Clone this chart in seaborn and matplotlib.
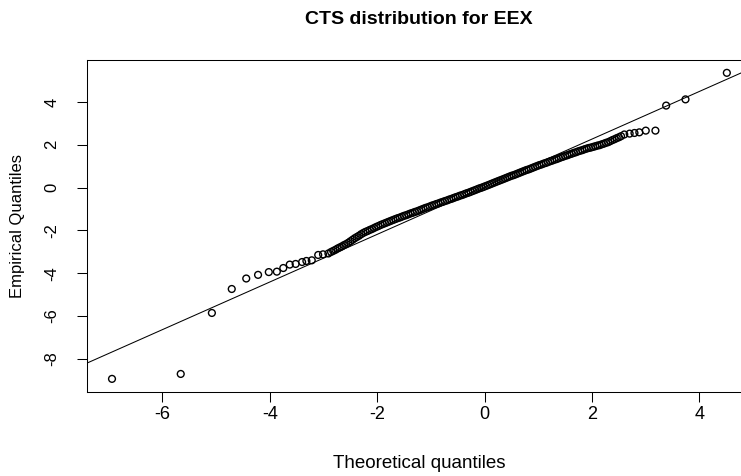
import matplotlib
matplotlib.use("Agg")
import matplotlib.pyplot as plt
import pandas as pd
import seaborn as sns

# ---- data ----
theoretical = [
    -6.94, -5.66, -5.08, -4.71, -4.44, -4.22, -4.02, -3.87, -3.75, -3.63,
    -3.52, -3.40, -3.32, -3.22, -3.10, -3.01, -2.91,
    -2.86, -2.82, -2.78, -2.74, -2.70, -2.66, -2.62, -2.58, -2.54, -2.50,
    -2.46, -2.42, -2.38, -2.34, -2.30, -2.26, -2.22, -2.18, -2.14, -2.10,
    -2.06, -2.02, -1.98, -1.94, -1.90, -1.86, -1.82, -1.78, -1.74, -1.70,
    -1.66, -1.62, -1.58, -1.54, -1.50, -1.46, -1.42, -1.38, -1.34, -1.30,
    -1.26, -1.22, -1.18, -1.14, -1.10, -1.06, -1.02, -0.98, -0.94, -0.90,
    -0.86, -0.82, -0.78, -0.74, -0.70, -0.66, -0.62, -0.58, -0.54, -0.50,
    -0.46, -0.42, -0.38, -0.34, -0.30, -0.26, -0.22, -0.18, -0.14, -0.10,
    -0.06, -0.02, 0.02, 0.06, 0.10, 0.14, 0.18, 0.22, 0.26, 0.30,
    0.34, 0.38, 0.42, 0.46, 0.50, 0.54, 0.58, 0.62, 0.66, 0.70,
    0.74, 0.78, 0.82, 0.86, 0.90, 0.94, 0.98, 1.02, 1.06, 1.10,
    1.14, 1.18, 1.22, 1.26, 1.30, 1.34, 1.38, 1.42, 1.46, 1.50,
    1.54, 1.58, 1.62, 1.66, 1.70, 1.74, 1.78, 1.82, 1.86, 1.90,
    1.94, 1.98, 2.02, 2.06, 2.10, 2.14, 2.18, 2.22, 2.26, 2.30,
    2.34, 2.38, 2.42, 2.46, 2.50, 2.54,
    2.60, 2.70, 2.79, 2.88, 3.00, 3.18, 3.38, 3.74, 4.51,
]
empirical = [
    -8.94, -8.71, -5.86, -4.74, -4.25, -4.08, -3.95, -3.93, -3.76, -3.60,
    -3.57, -3.48, -3.43, -3.40, -3.15, -3.12, -3.08,
    -3.01, -2.96, -2.91, -2.85, -2.80, -2.75, -2.69, -2.64, -2.58, -2.51,
    -2.44, -2.37, -2.31, -2.25, -2.18, -2.12, -2.07, -2.03, -1.98, -1.94,
    -1.89, -1.84, -1.80, -1.75, -1.71, -1.67, -1.63, -1.59, -1.55, -1.51,
    -1.47, -1.43, -1.40, -1.36, -1.32, -1.29, -1.25, -1.21, -1.18, -1.14,
    -1.11, -1.07, -1.03, -0.99, -0.95, -0.92, -0.88, -0.84, -0.81, -0.77,
    -0.74, -0.70, -0.67, -0.63, -0.60, -0.56, -0.53, -0.49, -0.45, -0.42,
    -0.38, -0.35, -0.31, -0.27, -0.24, -0.20, -0.16, -0.12, -0.08, -0.04,
    -0.01, 0.03, 0.07, 0.11, 0.15, 0.19, 0.23, 0.27, 0.31, 0.35,
    0.39, 0.43, 0.47, 0.51, 0.55, 0.58, 0.62, 0.66, 0.70, 0.74,
    0.78, 0.82, 0.85, 0.89, 0.93, 0.97, 1.01, 1.05, 1.08, 1.12,
    1.15, 1.19, 1.23, 1.26, 1.30, 1.33, 1.37, 1.41, 1.44, 1.48,
    1.51, 1.55, 1.58, 1.62, 1.65, 1.69, 1.72, 1.75, 1.79, 1.82,
    1.85, 1.87, 1.90, 1.93, 1.96, 1.98, 2.02, 2.05, 2.09, 2.12,
    2.17, 2.22, 2.26, 2.31, 2.35, 2.40,
    2.48, 2.52, 2.55, 2.58, 2.66, 2.66, 3.83, 4.12, 5.36,
]
line_intercept = 0.04
line_slope = 1.113
x_ticks = [-6, -4, -2, 0, 2, 4]
y_ticks = [-8, -6, -4, -2, 0, 2, 4]
title_text = "CTS distribution for EEX"
x_label = "Theoretical quantiles"
y_label = "Empirical Quantiles"

# ---- styling ----
sns.set_theme(style="white")
plt.rcParams['font.family'] = ['Liberation Sans', 'DejaVu Sans']

W, H = 741, 476
fig = plt.figure(figsize=(W / 100, H / 100), dpi=100)
left_px, right_px, top_px, bottom_px = 87.3, 751.0, 60.0, 391.5
ax = fig.add_axes([left_px / W, (H - bottom_px) / H,
                   (right_px - left_px) / W, (bottom_px - top_px) / H])

df = pd.DataFrame({"theoretical": theoretical, "empirical": empirical})
sns.scatterplot(data=df, x="theoretical", y="empirical", ax=ax,
                marker="o", s=24, facecolors="none", edgecolor="black",
                linewidth=1.0, zorder=2)
ax.axline((0, line_intercept), slope=line_slope, color="black",
          lw=0.75, zorder=3)

ax.set_xlim(-7.4, 4.96)
ax.set_ylim(-9.53, 5.96)
ax.set_xticks(x_ticks)
ax.set_yticks(y_ticks)
ax.set_xticklabels([str(t) for t in x_ticks])
ax.set_yticklabels([str(t) for t in y_ticks])
ax.tick_params(axis="both", direction="out", length=7.2, width=0.75,
               color="black", labelcolor="black", bottom=True, left=True)
ax.tick_params(axis="x", labelsize=13, pad=3)
ax.tick_params(axis="y", labelsize=12, pad=13, labelrotation=90)
for lab in ax.get_yticklabels():
    lab.set_va("center")
for sp in ax.spines.values():
    sp.set_color("black")
    sp.set_linewidth(0.75)
ax.set_xlabel("")
ax.set_ylabel("")

cx = (left_px + right_px) / 2 / W
fig.text(cx, 1 - 20 / H, title_text, ha="center", va="center",
         fontsize=14, fontweight="bold", color="black")
fig.text(cx, 1 - 463 / H, x_label, ha="center", va="center",
         fontsize=13.5, color="black")
fig.text(18 / W, 1 - 226 / H, y_label, ha="center", va="center",
         rotation=90, fontsize=12, color="black")

fig.savefig("out.png", dpi=100)
